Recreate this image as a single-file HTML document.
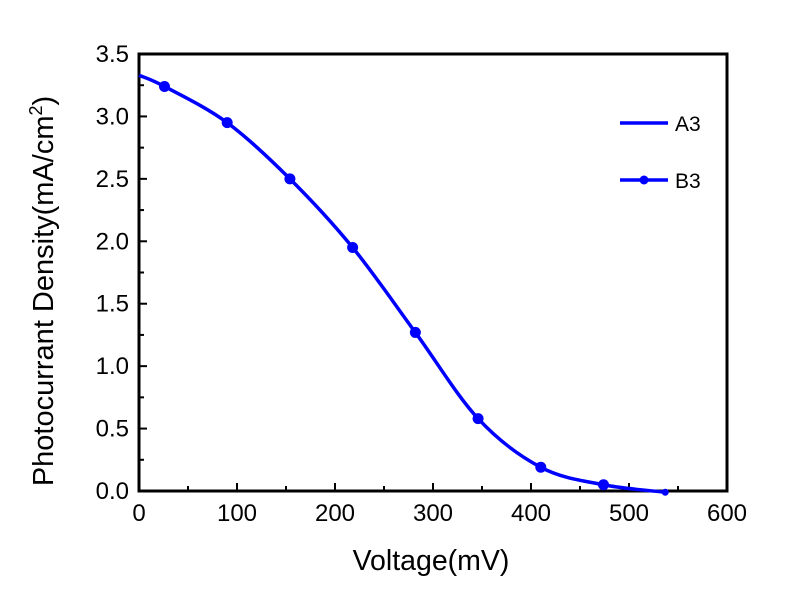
<!DOCTYPE html>
<html><head><meta charset="utf-8"><style>
body{margin:0;background:#fff}
text{font-family:"Liberation Sans",Arial,sans-serif;fill:#000}
</style></head><body>
<svg id="chart" width="800" height="588" xmlns="http://www.w3.org/2000/svg">
<g id="g"></g>
</svg>
<script>
const xTicks=[0,100,200,300,400,500,600];
const yTicks=[0.0,0.5,1.0,1.5,2.0,2.5,3.0,3.5];
const voltage=[0,26,90,154,218,282,346,410,474,537];
const current=[3.33,3.24,2.95,2.50,1.95,1.27,0.58,0.19,0.05,-0.01];
const markerIdx=[1,2,3,4,5,6,7,8,9];
const L=139,R=727,T=54,B=491;
const xs=v=>L+(v-0)/600*(R-L);
const ys=v=>B-(v/3.5)*(B-T);
const g=document.getElementById('g');
const NS='http://www.w3.org/2000/svg';
function mk(t,a,p){const e=document.createElementNS(NS,t);for(const k in a)e.setAttribute(k,a[k]);(p||g).appendChild(e);return e;}
const frame=mk('rect',{x:L,y:T,width:R-L,height:B-T,fill:'none',stroke:'#000','stroke-width':3});


for(let i=0;i<xTicks.length;i++){
  const v=xTicks[i];const x=xs(v);
  const t=mk('line',{x1:x,y1:B,x2:x,y2:B-8,stroke:'#000','stroke-width':2});
  
  
  if(i<xTicks.length-1){const xm=xs(v+50);mk('line',{x1:xm,y1:B,x2:xm,y2:B-5,stroke:'#000','stroke-width':2});}
  const lb=mk('text',{x:x,y:B+30,'text-anchor':'middle','font-size':24});
  lb.textContent=v;
  
  
}
for(let i=0;i<yTicks.length;i++){
  const v=yTicks[i];const y=ys(v);
  const t=mk('line',{x1:L,y1:y,x2:L+8,y2:y,stroke:'#000','stroke-width':2});
  
  
  if(i<yTicks.length-1){const ym=ys(v+0.25);mk('line',{x1:L,y1:ym,x2:L+5,y2:ym,stroke:'#000','stroke-width':2});}
  const lb=mk('text',{x:L-10,y:y+8,'text-anchor':'end','font-size':24});
  lb.textContent=v.toFixed(1);
  
  
}
const P=voltage.map((v,i)=>[xs(v),ys(current[i])]);
let d='M'+P[0][0]+','+P[0][1];
for(let i=0;i<P.length-1;i++){
  const p0=P[Math.max(0,i-1)],p1=P[i],p2=P[i+1],p3=P[Math.min(P.length-1,i+2)];
  d+=' C'+(p1[0]+(p2[0]-p0[0])/6)+','+(p1[1]+(p2[1]-p0[1])/6)+' '+(p2[0]-(p3[0]-p1[0])/6)+','+(p2[1]-(p3[1]-p1[1])/6)+' '+p2[0]+','+p2[1];
}
const line=mk('path',{d:d,fill:'none',stroke:'#0000ff','stroke-width':3.5});


markerIdx.forEach(i=>{
  const c=mk('circle',{cx:P[i][0],cy:P[i][1],r:i===9?3.5:5.5,fill:'#0000ff'});
  
  
});
const l1=mk('line',{x1:620,y1:123,x2:668,y2:123,stroke:'#0000ff','stroke-width':3.5});


const t1=mk('text',{x:675,y:131,'font-size':21});t1.textContent='A3';


const l2=mk('line',{x1:620,y1:180,x2:668,y2:180,stroke:'#0000ff','stroke-width':3.5});


const m2=mk('circle',{cx:644,cy:180,r:4.5,fill:'#0000ff'});


const t2=mk('text',{x:675,y:188,'font-size':21});t2.textContent='B3';


const xt=mk('text',{x:431,y:570,'text-anchor':'middle','font-size':28.5});xt.textContent='Voltage(mV)';


const yt=mk('text',{transform:'translate(53,291) rotate(-90)','text-anchor':'middle','font-size':29});
yt.innerHTML='Photocurrant Density(mA/cm<tspan dy="-11" font-size="18">2</tspan><tspan dy="11">)</tspan>';


</script>
</body></html>
